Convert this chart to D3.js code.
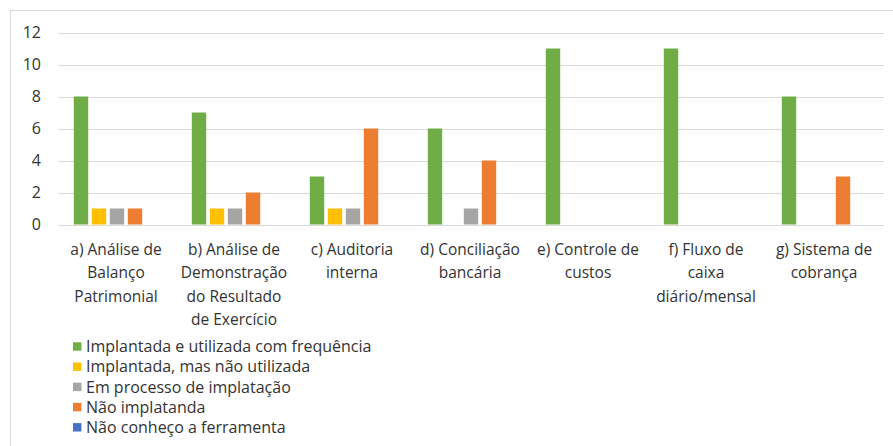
<!DOCTYPE html>
<html><head><meta charset="utf-8">
<script src="https://cdn.jsdelivr.net/npm/d3@7"></script>
<style>body{margin:0;background:#fff}svg text{font-family:"Open Sans",sans-serif;fill:#333}</style>
</head><body>
<svg id="c" width="893" height="446"></svg>
<script>
const categories = ["a","b","c","d","e","f","g"];
const categoryLabels = [
  ["a) Análise de","Balanço","Patrimonial"],
  ["b) Análise de","Demonstração","do Resultado","de Exercício"],
  ["c) Auditoria","interna"],
  ["d) Conciliação","bancária"],
  ["e) Controle de","custos"],
  ["f) Fluxo de","caixa","diário/mensal"],
  ["g) Sistema de","cobrança"]
];
const seriesNames = ["Implantada e utilizada com frequência","Implantada, mas não utilizada","Em processo de implatação","Não implatanda","Não conheço a ferramenta"];
const seriesColors = ["#70AD47","#FFC000","#A5A5A5","#ED7D31","#4472C4"];
const valuesFrequente = [8,7,3,6,11,11,8];
const valuesNaoUtilizada = [1,1,1,0,0,0,0];
const valuesEmProcesso = [1,1,1,1,0,0,0];
const valuesNaoImplantada = [1,2,6,4,0,0,3];
const valuesNaoConheco = [0,0,0,0,0,0,0];
const yTicks = [0,2,4,6,8,10,12];

const series = [valuesFrequente, valuesNaoUtilizada, valuesEmProcesso, valuesNaoImplantada, valuesNaoConheco];
const svg = d3.select("#c");

// chart border
svg.append("rect").attr("x",10.5).attr("y",10.5).attr("width",893).attr("height",460)
  .attr("fill","none").attr("stroke","#D9D9D9");

const x0 = d3.scaleBand().domain(categories).range([58,884]);
const x1 = d3.scaleBand().domain(d3.range(series.length)).range([14, x0.bandwidth()-14]).paddingInner(0.2).paddingOuter(0.1);
const y = d3.scaleLinear().domain([0,12]).range([224.5,32.5]);

// gridlines
svg.append("g").selectAll("line").data(yTicks).join("line")
  .attr("x1",58).attr("x2",884)
  .attr("y1",d=>Math.round(y(d))+0.5).attr("y2",d=>Math.round(y(d))+0.5)
  .attr("stroke","#D9D9D9").attr("stroke-width",1);

// y axis labels
const yAxis = d3.axisLeft(y).tickValues(yTicks).tickSize(0).tickPadding(0);
const ya = svg.append("g").attr("transform","translate(41,0)").call(yAxis);
ya.select(".domain").remove();
ya.selectAll("text").style("font-size","16px").attr("fill","#333").style("font-family","'Open Sans',sans-serif");

// bars
const g = svg.append("g");
categories.forEach((c,ci)=>{
  series.forEach((s,si)=>{
    if (s[ci] <= 0) return;
    g.append("rect")
      .attr("x", x0(c)+x1(si))
      .attr("width", x1.bandwidth())
      .attr("y", y(s[ci]))
      .attr("height", y(0)-y(s[ci]))
      .attr("fill", seriesColors[si]);
  });
});

// x labels
const xl = svg.append("g");
categories.forEach((c,ci)=>{
  const cx = x0(c)+x0.bandwidth()/2 - 1;
  const t = xl.append("text").attr("text-anchor","middle").style("font-size","15.5px")
    .attr("x", cx).attr("y", 255);
  categoryLabels[ci].forEach((ln,li)=>{
    t.append("tspan").attr("x", cx).attr("dy", li===0?0:23.3).text(ln);
  });
});

// legend
const lg = svg.append("g");
seriesNames.forEach((n,i)=>{
  const yy = 346.5 + i*20.2;
  lg.append("rect").attr("x",73).attr("y",yy-4.2).attr("width",8.4).attr("height",8.4).attr("fill",seriesColors[i]);
  lg.append("text").attr("x",86).attr("y",yy).attr("dy","0.36em").style("font-size","16px").text(n);
});
</script>
</body></html>
